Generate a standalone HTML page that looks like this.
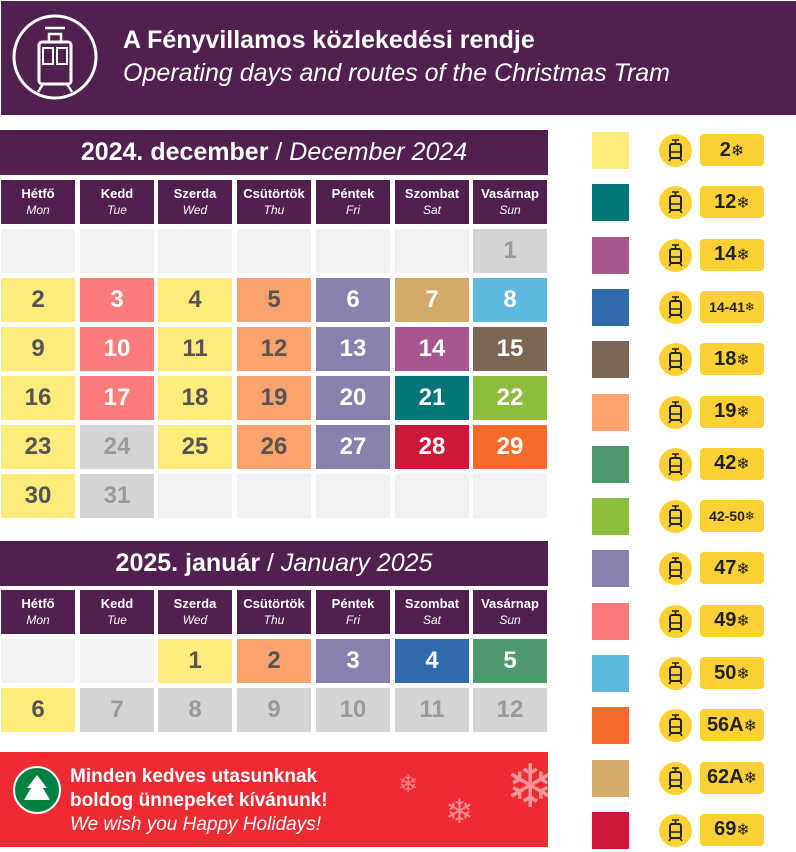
<!DOCTYPE html>
<html><head><meta charset="utf-8"><style>
*{margin:0;padding:0;box-sizing:border-box}
body{width:796px;height:850px;background:#fff;position:relative;font-family:"Liberation Sans","DejaVu Sans",sans-serif;overflow:hidden}
.a{position:absolute}
.hd{background:#51204f;color:#fff}
.c{position:absolute;width:74px;height:44px;display:flex;align-items:center;justify-content:center;font-weight:bold;font-size:24px;color:#fff}
.w{position:absolute;width:74px;height:44px;background:#51204f;color:#fff;text-align:center;font-size:13px;line-height:16px;padding-top:6px}
.w b{display:block}.w i{display:block;font-size:12px}
.sq{position:absolute;left:592px;width:37px;height:37px}
.ci{position:absolute;left:659px;width:33px;height:33px;border-radius:50%;background:#fdd133}
.bd{position:absolute;left:700px;width:64px;height:32px;border-radius:4px;background:#fdd133;color:#222;font-weight:bold;font-size:20px;display:flex;align-items:center;justify-content:center}
.bd span{font-family:"DejaVu Sans",sans-serif;color:#222;font-size:16px}
.bd.s{font-size:14px}.bd.s span{font-size:12px}
</style></head><body>
<div class="a hd" style="left:1px;top:1px;width:795px;height:114px"></div>
<svg class="a" style="left:10px;top:12px" width="90" height="90" viewBox="0 0 90 90">
<circle cx="45" cy="45" r="41" fill="none" stroke="#fff" stroke-width="3"/>
<rect x="29" y="30" width="32" height="42" rx="3" fill="none" stroke="#fff" stroke-width="3"/>
<rect x="33" y="36" width="10" height="16" fill="none" stroke="#fff" stroke-width="2"/><rect x="47" y="36" width="10" height="16" fill="none" stroke="#fff" stroke-width="2"/>
<path d="M39 30 L39 22 L51 22 L51 30 M35 16 L55 16" stroke="#fff" stroke-width="2.5" fill="none"/>
<path d="M33 72 L28 80 M57 72 L62 80" stroke="#fff" stroke-width="2.5"/>
</svg>
<div class="a" style="left:123px;top:26px;color:#fff;font-size:25px;font-weight:bold">A Fényvillamos közlekedési rendje</div>
<div class="a" style="left:123px;top:59px;color:#fff;font-size:25px;font-style:italic">Operating days and routes of the Christmas Tram</div>

<div class="a hd" style="left:0;top:130px;width:548px;height:45px;text-align:center;font-size:25px;line-height:45px"><b>2024. december</b> / <i>December 2024</i></div>
<div class="a hd" style="left:0;top:541px;width:548px;height:45px;text-align:center;font-size:25px;line-height:45px"><b>2025. január</b> / <i>January 2025</i></div>

<div id="cal"></div>

<div class="a" style="left:0;top:752px;width:548px;height:95px;background:#ee2a32;overflow:hidden">
<div class="a" style="left:13px;top:14px;width:48px;height:48px;border-radius:50%;background:#008041;border:2px solid #fff"></div>
<svg class="a" style="left:20px;top:19px" width="34" height="38"><path d="M17 4 L7 17 L11 17 L4 29 L30 29 L23 17 L27 17 Z" fill="#fff"/></svg>
<div class="a" style="left:70px;top:13px;color:#fff;font-size:19px;font-weight:bold;line-height:24px">Minden kedves utasunknak<br>boldog ünnepeket kívánunk!<br><i style="font-weight:normal">We wish you Happy Holidays!</i></div>
<div class="a" style="left:505px;top:0;color:rgba(255,255,255,.5);font-size:60px">❄</div>
<div class="a" style="left:445px;top:40px;color:rgba(255,255,255,.45);font-size:34px">❄</div>
<div class="a" style="left:398px;top:18px;color:rgba(255,255,255,.4);font-size:24px">❄</div>
</div>
<div id="leg"></div>
<script>
var Y="#fdeb7b",S="#f97c7a",LO="#fba26d",L="#8a80ad",T="#d4aa68",K="#5fb9df",P="#a9558f",B="#7a6653",TE="#00757a",LI="#8bbd3b",G="#d3d4d4",CR="#cc1839",O="#f66b2a",BL="#2f6aad",GR="#4c9a6e",E="#f2f2f2";
var xs=[1,80,158,237,316,395,473];
var days=[["Hétfő","Mon"],["Kedd","Tue"],["Szerda","Wed"],["Csütörtök","Thu"],["Péntek","Fri"],["Szombat","Sat"],["Vasárnap","Sun"]];
var dark=[Y,LO],h="";
function hdr(y){days.forEach(function(d,i){h+='<div class="w" style="left:'+xs[i]+'px;top:'+y+'px"><b>'+d[0]+'</b><i>'+d[1]+'</i></div>'})}
function rows(y0,data){data.forEach(function(r,ri){r.forEach(function(c,i){var col=c[1],n=c[0]||"";var tc=col==G?"#9a9a9a":(dark.indexOf(col)>=0?"#555":"#fff");h+='<div class="c" style="left:'+xs[i]+'px;top:'+(y0+ri*49)+'px;background:'+col+';color:'+tc+'">'+n+'</div>'})})}
hdr(180);
rows(229,[[[0,E],[0,E],[0,E],[0,E],[0,E],[0,E],[1,G]],
[[2,Y],[3,S],[4,Y],[5,LO],[6,L],[7,T],[8,K]],
[[9,Y],[10,S],[11,Y],[12,LO],[13,L],[14,P],[15,B]],
[[16,Y],[17,S],[18,Y],[19,LO],[20,L],[21,TE],[22,LI]],
[[23,Y],[24,G],[25,Y],[26,LO],[27,L],[28,CR],[29,O]],
[[30,Y],[31,G],[0,E],[0,E],[0,E],[0,E],[0,E]]]);
hdr(590);
rows(639,[[[0,E],[0,E],[1,Y],[2,LO],[3,L],[4,BL],[5,GR]],
[[6,Y],[7,G],[8,G],[9,G],[10,G],[11,G],[12,G]]]);
document.getElementById("cal").outerHTML=h;
var lg=[[Y,"2"],[TE,"12"],[P,"14"],[BL,"14-41",1],[B,"18"],[LO,"19"],[GR,"42"],[LI,"42-50",1],[L,"47"],[S,"49"],[K,"50"],[O,"56A"],[T,"62A"],[CR,"69"]];
var g="";
lg.forEach(function(l,i){var y=132+i*52.3;
g+='<div class="sq" style="top:'+y+'px;background:'+l[0]+'"></div>';
g+='<div class="ci" style="top:'+(y+2)+'px"><svg width="33" height="33"><rect x="11" y="10" width="11" height="14" rx="2" fill="none" stroke="#222" stroke-width="2"/><path d="M13 6h7M16.5 6v4M12 18h9M12 24l-2 3M21 24l2 3" stroke="#222" stroke-width="1.6"/></svg></div>';
g+='<div class="bd'+(l[2]?' s':'')+'" style="top:'+(y+2)+'px">'+l[1]+'<span>&#10052;&#xFE0E;</span></div>'});
document.getElementById("leg").outerHTML=g;
</script>
</body></html>
